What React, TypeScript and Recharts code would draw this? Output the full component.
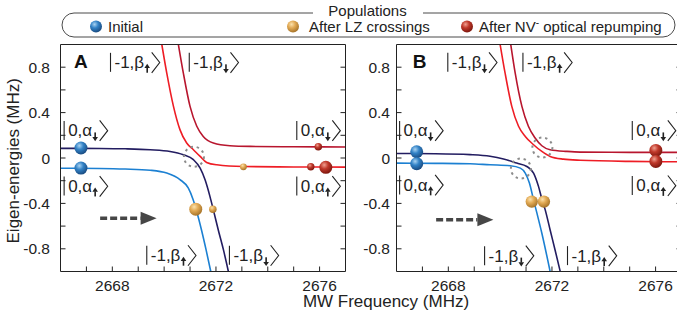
import React from "react";
import { ComposedChart, Line, Scatter, XAxis, YAxis, ReferenceDot, ReferenceLine } from "recharts";

const FONT = '"Liberation Sans", Arial, Helvetica, sans-serif';
const INK = "#222";

// axes (MHz)
const X_DOMAIN = [2666, 2677];
const Y_DOMAIN = [-1, 1];
const X_TICKS = [2667, 2668, 2669, 2670, 2671, 2672, 2673, 2674, 2675, 2676];
const X_LABELS = [2668, 2672, 2676];
const Y_TICKS = [-0.8, -0.6, -0.4, -0.2, 0, 0.2, 0.4, 0.6, 0.8];
const Y_LABELS = [-0.8, -0.4, 0, 0.4, 0.8];

// panel A eigen-energies, [frequency, energy]
const A_NAVY = [
  [2666, 0.085], [2667.5, 0.084], [2668.5, 0.081], [2669.46, 0.073], [2670.23, 0.058],
  [2670.74, 0.029], [2671.13, -0.015], [2671.39, -0.089], [2671.58, -0.192], [2671.77, -0.34],
  [2671.9, -0.457], [2672.09, -0.634], [2672.29, -0.81], [2672.48, -1.0],
];
const A_BLUE = [
  [2666, -0.09], [2667.5, -0.092], [2668.5, -0.097], [2669.46, -0.108], [2670.1, -0.133],
  [2670.61, -0.19], [2670.93, -0.264], [2671.12, -0.367], [2671.31, -0.515], [2671.44, -0.632],
  [2671.62, -0.81], [2671.8, -1.0],
];
const A_RED = [
  [2669.91, 1.0], [2670.1, 0.75], [2670.36, 0.455], [2670.61, 0.25], [2670.87, 0.132],
  [2671.13, 0.073], [2671.39, 0.014], [2671.64, -0.039], [2672.03, -0.06], [2673.06, -0.075],
  [2675, -0.079], [2677, -0.08],
];
const A_DARKRED = [
  [2670.55, 1.0], [2670.74, 0.75], [2671.0, 0.455], [2671.26, 0.28], [2671.51, 0.19],
  [2671.9, 0.132], [2672.54, 0.108], [2673.32, 0.102], [2675, 0.099], [2677, 0.097],
];

// panel B eigen-energies
const B_NAVY = [
  [2666, 0.04], [2667.5, 0.038], [2668.84, 0.03], [2669.61, 0.016], [2670.13, -0.008],
  [2670.64, -0.045], [2671.03, -0.075], [2671.29, -0.133], [2671.48, -0.25], [2671.61, -0.36],
  [2671.74, -0.457], [2671.93, -0.634], [2672.12, -0.81], [2672.32, -1.0],
];
const B_BLUE = [
  [2666, -0.045], [2667.5, -0.047], [2668.84, -0.051], [2669.61, -0.06], [2670.39, -0.068],
  [2670.78, -0.089], [2670.97, -0.133], [2671.13, -0.221], [2671.29, -0.369], [2671.42, -0.486],
  [2671.61, -0.663], [2671.93, -1.0],
];
const B_RED = [
  [2670.0, 1.0], [2670.19, 0.75], [2670.45, 0.455], [2670.71, 0.28], [2670.97, 0.19],
  [2671.29, 0.117], [2671.61, 0.058], [2671.93, 0.014], [2672.44, -0.01], [2673.09, -0.02],
  [2675, -0.03], [2677, -0.033],
];
const B_DARKRED = [
  [2670.41, 1.0], [2670.58, 0.75], [2670.84, 0.455], [2671.09, 0.28], [2671.35, 0.176],
  [2671.61, 0.108], [2671.93, 0.073], [2672.58, 0.058], [2673.09, 0.052], [2675, 0.05],
  [2677, 0.05],
];

// populations, [frequency, energy, relative population]
const A_INITIAL = [[2666.79, 0.088, 1], [2666.79, -0.089, 1]];
const A_LZ = [[2671.22, -0.451, 1], [2671.88, -0.451, 0.33], [2673.06, -0.078, 0.28]];
const A_REPUMP = [[2675.95, 0.1, 0.33], [2675.66, -0.077, 0.32], [2676.24, -0.082, 1]];
const B_INITIAL = [[2666.78, 0.055, 1], [2666.78, -0.05, 1]];
const B_LZ = [[2671.22, -0.384, 0.9], [2671.69, -0.384, 0.9]];
const B_REPUMP = [[2676.01, 0.067, 1], [2676.01, -0.03, 1]];

// avoided crossings marked by dotted circles
const A_CROSSINGS = [[2671.15, 0.011]];
const B_CROSSINGS = [[2671.63, 0.092], [2670.8, -0.093]];

// sweep direction arrows, [from, to, energy]
const A_SWEEP = [2667.53, 2669.71, -0.53];
const B_SWEEP = [2667.53, 2669.74, -0.545];

// state labels, [frequency, energy, m_s, nuclear state, spin]
const A_KETS = [
  [2667.93, 0.79, "-1", "β", "up"], [2670.97, 0.79, "-1", "β", "down"],
  [2666.14, 0.19, "0", "α", "down"], [2666.14, -0.3, "0", "α", "up"],
  [2675.12, 0.19, "0", "α", "down"], [2675.12, -0.3, "0", "α", "up"],
  [2669.33, -0.91, "-1", "β", "up"], [2672.52, -0.91, "-1", "β", "down"],
];
const B_KETS = [
  [2667.98, 0.79, "-1", "β", "down"], [2670.88, 0.79, "-1", "β", "up"],
  [2666.12, 0.19, "0", "α", "down"], [2666.12, -0.29, "0", "α", "up"],
  [2675.1, 0.19, "0", "α", "down"], [2675.1, -0.295, "0", "α", "up"],
  [2669.4, -0.913, "-1", "β", "down"], [2672.6, -0.913, "-1", "β", "up"],
];

const pts = (arr: number[][]) => arr.map(([x, y]) => ({ x, y }));
const pops = (arr: number[][]) => arr.map(([x, y, pop]) => ({ x, y, pop }));

const BALL = {
  blue: ["#a9d3f2", "#3282c6", "#1a4c82"],
  orange: ["#fbe2ad", "#e2aa55", "#a8752a"],
  red: ["#f0a090", "#c0392b", "#7e170e"],
};

function BallGlyph({ cx, cy, r, kind }: any) {
  const id = `ball-${kind}`;
  const c = (BALL as any)[kind];
  return (
    <g>
      <defs>
        <radialGradient id={id} cx="38%" cy="32%" r="68%">
          <stop offset="0%" stopColor={c[0]} />
          <stop offset="45%" stopColor={c[1]} />
          <stop offset="100%" stopColor={c[2]} />
        </radialGradient>
      </defs>
      <circle cx={cx} cy={cy} r={r} fill={`url(#${id})`} />
    </g>
  );
}

const ballShape = (kind: string) => (p: any) => {
  const pop = p.payload && p.payload.pop != null ? p.payload.pop : 1;
  return <BallGlyph cx={p.cx} cy={p.cy} r={6.5 * Math.sqrt(pop)} kind={kind} />;
};

function SpinArrow({ x, y, spin }: any) {
  if (spin === "down") {
    return (
      <g fill={INK} stroke="none">
        <rect x={x - 0.8} y={y - 4} width={1.6} height={5} />
        <polygon points={`${x - 2.8},${y + 0.6} ${x + 2.8},${y + 0.6} ${x},${y + 4.8}`} />
      </g>
    );
  }
  return (
    <g fill={INK} stroke="none">
      <rect x={x - 0.8} y={y - 0.6} width={1.6} height={5} />
      <polygon points={`${x - 2.8},${y - 0.4} ${x + 2.8},${y - 0.4} ${x},${y - 4.6}`} />
    </g>
  );
}

function Ket({ cx, cy, n, g, spin }: any) {
  const fs = 17;
  const w = ((n === "-1" ? 0.889 : 0.556) + 0.278 + 0.58) * fs;
  const tx = cx + 4;
  const ax = tx + w + 3;
  const bx = ax + 4.5;
  return (
    <g>
      <line x1={cx} x2={cx} y1={cy - 15.5} y2={cy + 3.5} stroke={INK} strokeWidth={1.1} />
      <text x={tx} y={cy} fontSize={fs} fontFamily={FONT} fill={INK}>{`${n},${g}`}</text>
      <SpinArrow x={ax} y={cy} spin={spin} />
      <polyline
        points={`${bx},${cy - 16} ${bx + 8},${cy - 5.8} ${bx},${cy + 4.5}`}
        fill="none"
        stroke={INK}
        strokeWidth={1.1}
      />
    </g>
  );
}

const bottomTick = (p: any) => (
  <g>
    <line x1={p.x} x2={p.x} y1={p.y} y2={p.y - 5} stroke={INK} />
    {X_LABELS.includes(p.payload.value) && (
      <text x={p.x} y={p.y + 19} textAnchor="middle" fontSize={15.5} fontFamily={FONT} fill={INK}>
        {p.payload.value}
      </text>
    )}
  </g>
);
const topTick = (p: any) => <line x1={p.x} x2={p.x} y1={p.y} y2={p.y + 5} stroke={INK} />;
const leftTick = (gap: number) => (p: any) => (
  <g>
    <line x1={p.x} x2={p.x + 5} y1={p.y} y2={p.y} stroke={INK} />
    {Y_LABELS.includes(p.payload.value) && (
      <text x={p.x - gap} y={p.y + 5.6} textAnchor="end" fontSize={15.5} fontFamily={FONT} fill={INK}>
        {String(p.payload.value)}
      </text>
    )}
  </g>
);
const rightTick = (p: any) => <line x1={p.x} x2={p.x - 5} y1={p.y} y2={p.y} stroke={INK} />;

const sweepShape = (p: any) => {
  const hx = p.x2 - 16;
  return (
    <g>
      <line x1={p.x1} y1={p.y1} x2={hx} y2={p.y2} stroke="#464646" strokeWidth={3.5} strokeDasharray="7 3" />
      <polygon points={`${hx},${p.y2 - 6.5} ${p.x2},${p.y2} ${hx},${p.y2 + 6.5}`} fill="#464646" />
    </g>
  );
};

function Panel({ letter, navy, blue, red, darkred, initial, lz, repump, crossings, sweep, kets, gap, ml, mr }: any) {
  return (
    <ComposedChart width={360} height={320} margin={{ top: 34.5, right: mr, bottom: 18.5, left: ml }}>
      <XAxis
        dataKey="x" type="number" domain={X_DOMAIN} ticks={X_TICKS} interval={0}
        tickSize={0} tickMargin={0} height={30} tick={bottomTick} tickLine={false}
        axisLine={{ stroke: INK }} allowDataOverflow
      />
      <XAxis
        xAxisId="top" orientation="top" type="number" domain={X_DOMAIN} ticks={X_TICKS} interval={0}
        tickSize={0} tickMargin={0} height={10} tick={topTick} tickLine={false}
        axisLine={{ stroke: INK }} allowDataOverflow
      />
      <YAxis
        dataKey="y" type="number" domain={Y_DOMAIN} ticks={Y_TICKS} interval={0}
        tickSize={0} tickMargin={0} width={40} tick={leftTick(gap)} tickLine={false}
        axisLine={{ stroke: INK }} allowDataOverflow
      />
      <YAxis
        yAxisId="right" orientation="right" type="number" domain={Y_DOMAIN} ticks={Y_TICKS} interval={0}
        tickSize={0} tickMargin={0} width={10} tick={rightTick} tickLine={false}
        axisLine={{ stroke: INK }} allowDataOverflow
      />

      {kets.map((k: any, i: number) => (
        <ReferenceDot
          key={`k${i}`} x={k[0]} y={k[1]} r={0} ifOverflow="visible"
          shape={(p: any) => <Ket cx={p.cx} cy={p.cy} n={k[2]} g={k[3]} spin={k[4]} />}
        />
      ))}

      <Line data={pts(blue)} dataKey="y" type="monotone" stroke="#1c80d2" strokeWidth={1.6} dot={false} isAnimationActive={false} />
      <Line data={pts(navy)} dataKey="y" type="monotone" stroke="#231d61" strokeWidth={1.6} dot={false} isAnimationActive={false} />
      <Line data={pts(darkred)} dataKey="y" type="monotone" stroke="#b8162e" strokeWidth={1.6} dot={false} isAnimationActive={false} />
      <Line data={pts(red)} dataKey="y" type="monotone" stroke="#ee1d25" strokeWidth={1.6} dot={false} isAnimationActive={false} />

      {crossings.map((c: number[], i: number) => (
        <ReferenceDot
          key={`c${i}`} x={c[0]} y={c[1]} r={10} fill="none" stroke="#8c8c8c"
          strokeWidth={2} strokeDasharray="2.4 3.8" ifOverflow="visible"
        />
      ))}

      <ReferenceLine
        segment={[{ x: sweep[0], y: sweep[2] }, { x: sweep[1], y: sweep[2] }]}
        shape={sweepShape} ifOverflow="visible"
      />

      <Scatter data={pops(initial)} shape={ballShape("blue")} isAnimationActive={false} />
      <Scatter data={pops(lz)} shape={ballShape("orange")} isAnimationActive={false} />
      <Scatter data={pops(repump)} shape={ballShape("red")} isAnimationActive={false} />

      <ReferenceDot
        x={letter[1]} y={letter[2]} r={0} ifOverflow="visible"
        shape={(p: any) => (
          <text x={p.cx} y={p.cy} fontSize={19} fontWeight="bold" fontFamily={FONT} fill="#111">{letter[0]}</text>
        )}
      />
    </ComposedChart>
  );
}

function Legend() {
  const items = [
    { kind: "blue", cx: 96, tx: 108, label: <tspan>Initial</tspan> },
    { kind: "orange", cx: 293, tx: 309, label: <tspan>After LZ crossings</tspan> },
    {
      kind: "red", cx: 467, tx: 479,
      label: (
        <>
          <tspan>After NV</tspan>
          <tspan fontSize={10} dy={-6}>-</tspan>
          <tspan dy={6}> optical repumping</tspan>
        </>
      ),
    },
  ];
  return (
    <g fontFamily={FONT}>
      <rect x={62} y={13} width={613} height={24} rx={12} fill="none" stroke="#4a4a4a" strokeWidth={1} />
      <rect x={313} y={8} width={110} height={10} fill="#fff" />
      <text x={367.5} y={16} textAnchor="middle" fontSize={15} fill={INK}>Populations</text>
      {items.map((it) => (
        <g key={it.kind}>
          <BallGlyph cx={it.cx} cy={26.5} r={6} kind={it.kind} />
          <text x={it.tx} y={31.5} fontSize={15} fill={INK}>{it.label}</text>
        </g>
      ))}
    </g>
  );
}

export default function App() {
  return (
    <div
      style={{
        position: "absolute", left: 0, top: 0, width: 677, height: 320,
        overflow: "hidden", background: "#fff", fontFamily: FONT,
      }}
    >
      <div style={{ position: "absolute", left: 0, top: 0 }}>
        <Panel
          letter={["A", 2666.52, 0.794]} navy={A_NAVY} blue={A_BLUE} red={A_RED} darkred={A_DARKRED}
          initial={A_INITIAL} lz={A_LZ} repump={A_REPUMP} crossings={A_CROSSINGS} sweep={A_SWEEP}
          kets={A_KETS} gap={10.5} ml={20.5} mr={4.5}
        />
      </div>
      <div style={{ position: "absolute", left: 340, top: 0 }}>
        <Panel
          letter={["B", 2666.63, 0.794]} navy={B_NAVY} blue={B_BLUE} red={B_RED} darkred={B_DARKRED}
          initial={B_INITIAL} lz={B_LZ} repump={B_REPUMP} crossings={B_CROSSINGS} sweep={B_SWEEP}
          kets={B_KETS} gap={6.5} ml={16.5} mr={8.5}
        />
      </div>
      <svg width={677} height={320} style={{ position: "absolute", left: 0, top: 0, pointerEvents: "none" }}>
        <Legend />
        <text
          x={19.5} y={160.8} textAnchor="middle" fontSize={17} fontFamily={FONT} fill={INK}
          transform="rotate(-90 19.5 160.8)"
        >
          Eigen-energies (MHz)
        </text>
        <text x={386} y={307} textAnchor="middle" fontSize={17} fontFamily={FONT} fill={INK}>
          MW Frequency (MHz)
        </text>
      </svg>
    </div>
  );
}
